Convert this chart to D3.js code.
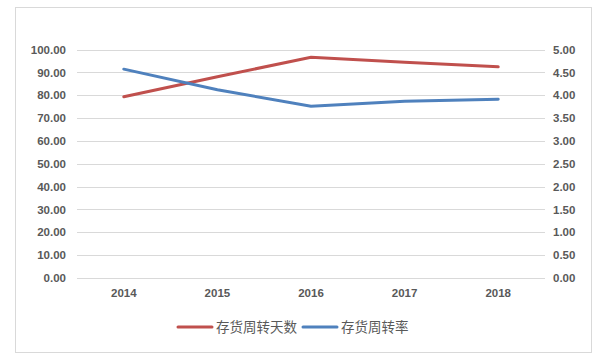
<!DOCTYPE html>
<html>
<head>
<meta charset="utf-8">
<script src="https://cdn.jsdelivr.net/npm/d3@7"></script>
<style>
  body { margin: 0; background: #fff; }
  svg text { font-family: "Liberation Sans", "DejaVu Sans", sans-serif; }
</style>
</head>
<body>
<div id="chart"></div>
<script>
// data
var years = ["2014", "2015", "2016", "2017", "2018"];
var turnoverDays = [79.3, 88.1, 96.6, 94.4, 92.4];   // 存货周转天数, left axis
var turnoverRate = [4.57, 4.12, 3.76, 3.87, 3.91];   // 存货周转率, right axis
var leftTicks = [0, 10, 20, 30, 40, 50, 60, 70, 80, 90, 100];
var rightTicks = [0, 0.5, 1, 1.5, 2, 2.5, 3, 3.5, 4, 4.5, 5];
var seriesNames = ["存货周转天数", "存货周转率"];
var colors = ["#C0504D", "#4F81BD"];

var W = 608, H = 362;
var plot = {left: 77, right: 545, top: 49.5, bottom: 278};

var svg = d3.select("#chart").append("svg")
    .attr("width", W).attr("height", H);

// outer frame
svg.append("rect")
    .attr("x", 15.5).attr("y", 7.5)
    .attr("width", 576).attr("height", 345)
    .attr("fill", "#fff").attr("stroke", "#D9D9D9");

var x = d3.scaleBand().domain(years).range([plot.left, plot.right]);
var yL = d3.scaleLinear().domain([0, 100]).range([plot.bottom, plot.top]);
var yR = d3.scaleLinear().domain([0, 5]).range([plot.bottom, plot.top]);

// gridlines
svg.append("g").selectAll("line").data(leftTicks).enter().append("line")
    .attr("x1", plot.left).attr("x2", plot.right)
    .attr("y1", function (d) { return Math.round(yL(d)) + 0.5; })
    .attr("y2", function (d) { return Math.round(yL(d)) + 0.5; })
    .attr("stroke", "#D9D9D9").attr("stroke-width", 1);

// left axis
var axL = svg.append("g")
    .attr("transform", "translate(" + (plot.left - 11) + ",0)")
    .call(d3.axisLeft(yL).tickValues(leftTicks).tickFormat(d3.format(".2f")).tickSize(0).tickPadding(0));
// right axis
var axR = svg.append("g")
    .attr("transform", "translate(" + (plot.right + 8) + ",0)")
    .call(d3.axisRight(yR).tickValues(rightTicks).tickFormat(d3.format(".2f")).tickSize(0).tickPadding(0));
// bottom axis
var axB = svg.append("g")
    .attr("transform", "translate(0," + (plot.bottom + 11) + ")")
    .call(d3.axisBottom(x).tickSize(0).tickPadding(0));

[axL, axR, axB].forEach(function (ax) {
    ax.select(".domain").remove();
    ax.selectAll("text")
        .attr("fill", "#595959")
        .style("font-size", "11.5px")
        .style("font-weight", "bold");
});

// lines
var lineL = d3.line()
    .x(function (d, i) { return x(years[i]) + x.bandwidth() / 2; })
    .y(function (d) { return yL(d); });
var lineR = d3.line()
    .x(function (d, i) { return x(years[i]) + x.bandwidth() / 2; })
    .y(function (d) { return yR(d); });

svg.append("path").datum(turnoverDays)
    .attr("d", lineL).attr("fill", "none")
    .attr("stroke", colors[0]).attr("stroke-width", 3).attr("stroke-linecap", "round");
svg.append("path").datum(turnoverRate)
    .attr("d", lineR).attr("fill", "none")
    .attr("stroke", colors[1]).attr("stroke-width", 3).attr("stroke-linecap", "round");

// legend
var legend = svg.append("g");
var legendX = [178, 303];
seriesNames.forEach(function (name, i) {
    legend.append("line")
        .attr("x1", legendX[i]).attr("x2", legendX[i] + 34)
        .attr("y1", 327).attr("y2", 327)
        .attr("stroke", colors[i]).attr("stroke-width", 3).attr("stroke-linecap", "round");
    legend.append("text")
        .attr("x", legendX[i] + 38).attr("y", 332)
        .attr("fill", "#595959")
        .style("font-size", "13.5px")
        .style("font-family", "'Noto Sans CJK SC', sans-serif")
        .text(name);
});
</script>
</body>
</html>
